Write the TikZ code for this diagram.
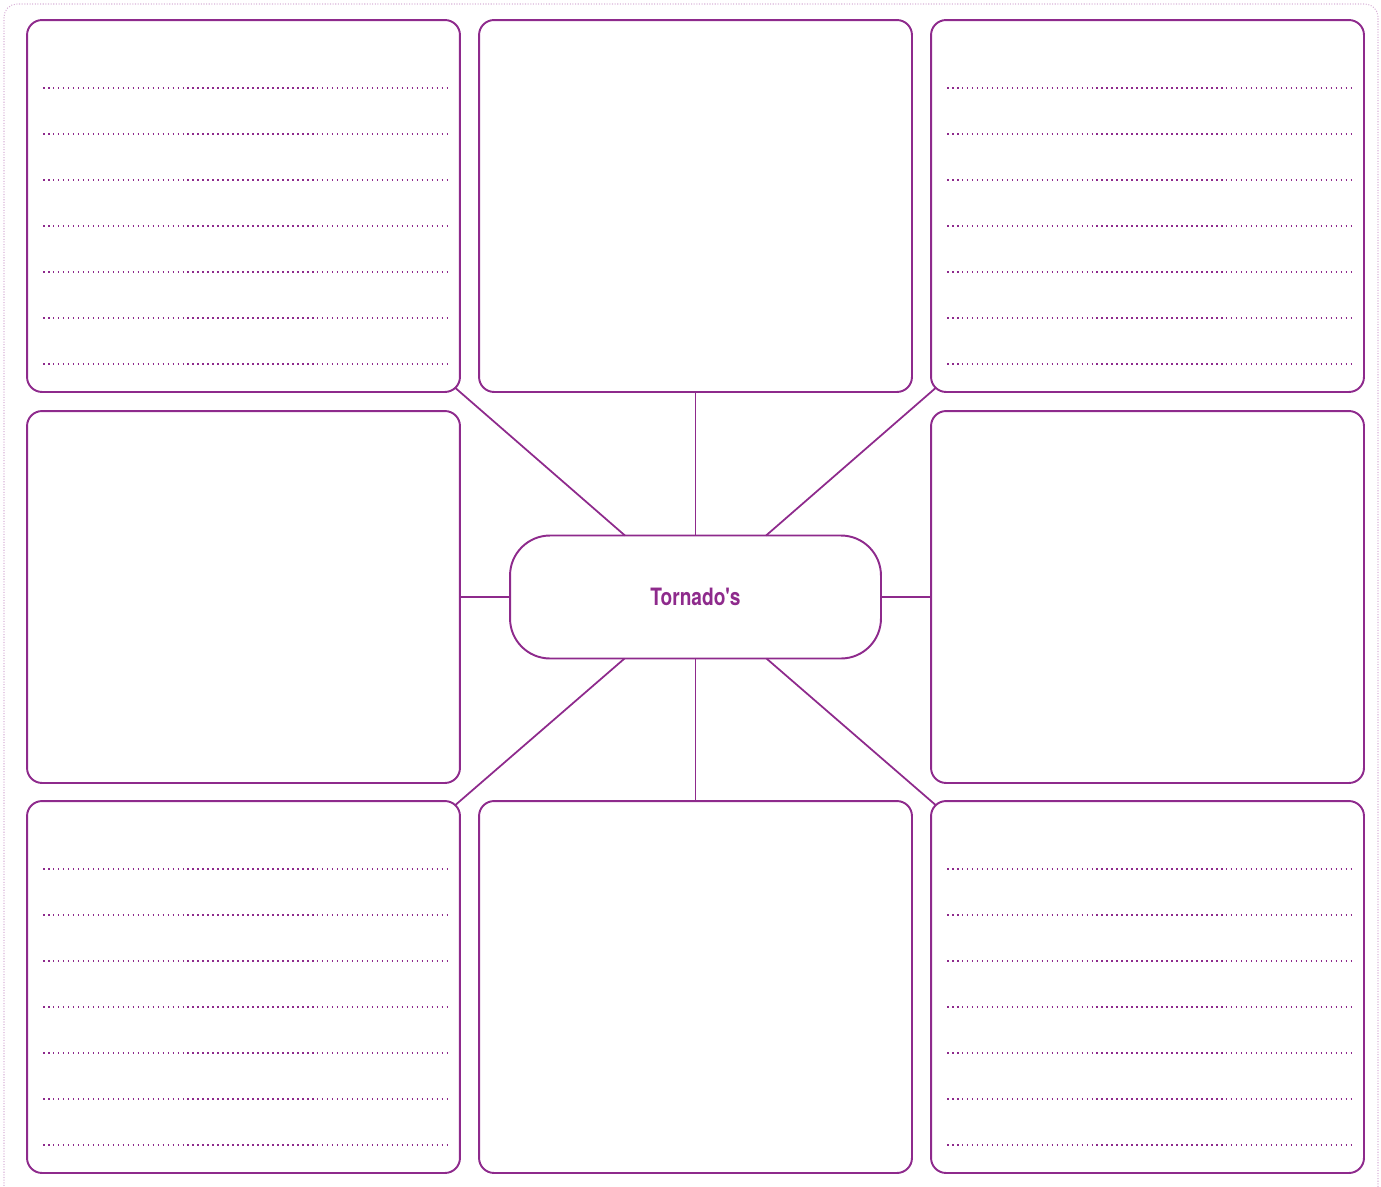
\documentclass[tikz,border=0pt]{standalone}
\usepackage{fontspec}
\newfontfamily\condfont[FakeStretch=0.8]{TeX Gyre Heros}
\usetikzlibrary{positioning, calc}
\usepackage{xcolor}
\definecolor{webpurple}{HTML}{8E2A8C}
\definecolor{webframe}{HTML}{D9B3D8}

\tikzset{
  panel/.style={draw=webpurple, line width=1.1pt, rounded corners=0.3cm,
    minimum width=8.66cm, minimum height=7.44cm, inner sep=0pt, outer sep=0pt},
  hub/.style={draw=webpurple, line width=1.1pt, rounded corners=0.8cm,
    minimum width=7.42cm, minimum height=2.46cm, inner sep=0pt, outer sep=0pt,
    font=\condfont\bfseries\fontsize{13.6}{15}\selectfont, text=webpurple},
  spoke/.style={draw=webpurple, line width=1pt},
  ruled/.style={draw=webpurple, line width=0.85pt, dash pattern=on 0.85pt off 1.985pt},
  frame/.style={draw=webframe, line width=0.6pt, dash pattern=on 0.6pt off 0.9pt}
}

\begin{document}
\begin{tikzpicture}[x=0.02cm, y=-0.02cm]
  \useasboundingbox (0,0) rectangle (1381,1186);
  % Outer frame
  \draw[frame, rounded corners=0.26cm] (4,1220) rectangle (1378,4);

  % Panels
  \node[panel] (tl) at (243.5,206) {};
  \node[panel] (tm) at (695.5,206) {};
  \node[panel] (tr) at (1147.5,206) {};
  \node[panel] (ml) at (243.5,597) {};
  \node[panel] (mr) at (1147.5,597) {};
  \node[panel] (bl) at (243.5,987) {};
  \node[panel] (bm) at (695.5,987) {};
  \node[panel] (br) at (1147.5,987) {};

  % Centre
  \node[hub] (c) at (695.5,597) {Tornado's};

  % Writing lines
  \foreach \p in {tl,tr,bl,br}
    \foreach \k in {1,...,7}
      \draw[ruled] ($(\p.north west)+(16,{68+46*(\k-1)})$) -- ++(408,0);

  % Spokes (start on the rounded corner)
  \draw[spoke, shorten <=-0.12cm] (tl.south east) -- (c);
  \draw[spoke, shorten <=-0.12cm] (tr.south west) -- (c);
  \draw[spoke, shorten <=-0.12cm] (bl.north east) -- (c);
  \draw[spoke, shorten <=-0.12cm] (br.north west) -- (c);
  \draw[spoke] (tm.south) -- (c.north);
  \draw[spoke] (bm.north) -- (c.south);
  \draw[spoke] (ml.east) -- (c.west);
  \draw[spoke] (mr.west) -- (c.east);
\end{tikzpicture}
\end{document}
